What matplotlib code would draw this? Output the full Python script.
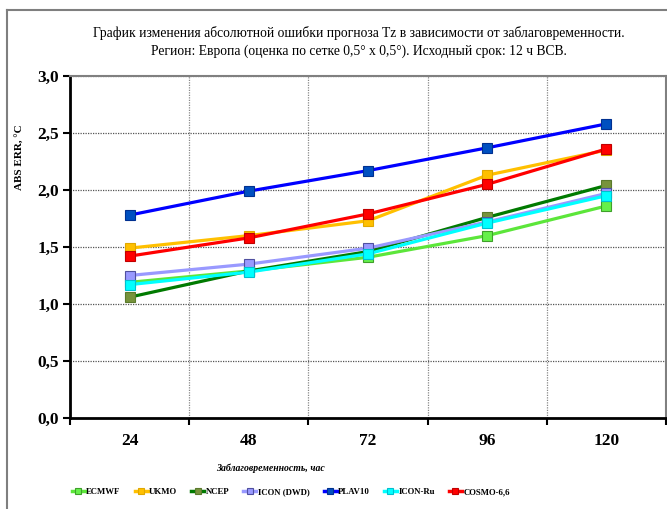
import matplotlib
matplotlib.use("Agg")
import matplotlib.pyplot as plt
from matplotlib.lines import Line2D

# lead times, hours
leads = ["24", "48", "72", "96", "120"]

ecmwf = [1.19, 1.29, 1.41, 1.60, 1.86]
ukmo = [1.49, 1.60, 1.73, 2.13, 2.35]
ncep = [1.06, 1.29, 1.46, 1.76, 2.04]
icon_dwd = [1.25, 1.35, 1.49, 1.72, 1.97]
plav10 = [1.78, 1.99, 2.17, 2.37, 2.58]
icon_ru = [1.17, 1.28, 1.44, 1.71, 1.95]
cosmo = [1.42, 1.58, 1.79, 2.05, 2.36]

names = ["ECMWF", "UKMO", "NCEP", "ICON (DWD)", "PLAV10", "ICON-Ru", "COSMO-6,6"]
series = [ecmwf, ukmo, ncep, icon_dwd, plav10, icon_ru, cosmo]
# (line colour, marker face, marker edge)
styles = [
    ("#5CE63A", "#66F04A", "#3FA02A"),
    ("#FFC000", "#FFC000", "#E0A800"),
    ("#007A00", "#77933C", "#5A7A2C"),
    ("#9999FF", "#9999FF", "#5050A0"),
    ("#0000FF", "#0050C0", "#003090"),
    ("#00FFFF", "#00FFFF", "#00C0D0"),
    ("#FF0000", "#FF0000", "#C00000"),
]

serif = "Liberation Serif"

fig = plt.figure(figsize=(6.67, 5.09), dpi=100)
ax = fig.add_axes([70 / 667, 1 - 418 / 509, 596 / 667, 342 / 509])

x = list(range(len(leads)))
for vals, name, (lc, mf, me) in zip(series, names, styles):
    ax.plot(x, vals, color=lc, lw=2.3, marker="s", markersize=7,
            markerfacecolor=mf, markeredgecolor=me, markeredgewidth=0.8,
            label=name, zorder=3)

ax.set_xlim(-0.5, len(leads) - 0.5)
ax.set_ylim(0, 3.0)
ax.set_yticks([0, 0.5, 1.0, 1.5, 2.0, 2.5, 3.0])
ax.set_yticklabels(["0,0", "0,5", "1,0", "1,5", "2,0", "2,5", "3,0"],
                   fontfamily=serif, fontweight="bold", fontsize=12.5)
ax.set_xticks(x)
ax.set_xticklabels(leads, fontfamily=serif, fontweight="bold", fontsize=12.5)
ax.set_xticks([i - 0.5 for i in range(len(leads) + 1)], minor=True)
ax.tick_params(axis="x", which="major", length=0, pad=11)
ax.tick_params(axis="x", which="minor", length=5, width=1.5, direction="out")
ax.tick_params(axis="y", length=5, width=1.5, direction="out", pad=3)

ax.grid(True, axis="y", which="major", color="#555555", ls=(0, (1, 1)), lw=0.9)
ax.grid(True, axis="x", which="minor", color="#888888", ls=(0, (1, 1)), lw=0.9)

for side in ["left", "bottom"]:
    ax.spines[side].set_linewidth(2)
    ax.spines[side].set_color("black")
for side in ["top", "right"]:
    ax.spines[side].set_linewidth(1.5)
    ax.spines[side].set_color("#808080")

fig.text(359 / 667, 1 - 33 / 509,
         "График изменения абсолютной ошибки прогноза Tz в зависимости от заблаговременности.",
         ha="center", va="center", fontfamily=serif, fontsize=9.8)
fig.text(359 / 667, 1 - 51 / 509,
         "Регион: Европа (оценка по сетке 0,5° х 0,5°). Исходный срок: 12 ч ВСВ.",
         ha="center", va="center", fontfamily=serif, fontsize=9.8)

fig.text(19 / 667, 1 - 157 / 509, "ABS ERR, °C", rotation=90, ha="center", va="center",
         fontfamily=serif, fontweight="bold", fontsize=8)
fig.text(270 / 667, 1 - 468 / 509, "Заблаговременность, час", ha="center", va="center",
         fontfamily=serif, fontweight="bold", fontstyle="italic", fontsize=7)

leg = fig.legend(loc="center left", bbox_to_anchor=(64 / 667, 1 - 492 / 509), ncol=7,
                 frameon=False, handlelength=1.5, handletextpad=0.15, columnspacing=1.6,
                 prop={"family": serif, "weight": "bold", "size": 6.3})
for h in leg.legend_handles:
    h.set_markersize(4)
    h.set_linewidth(2.5)

# outer chart frame
fig.add_artist(Line2D([7 / 667, 7 / 667], [0, 1 - 10 / 509], color="#7f7f7f", lw=1.5,
                      transform=fig.transFigure))
fig.add_artist(Line2D([7 / 667, 1], [1 - 10 / 509, 1 - 10 / 509], color="#7f7f7f", lw=1.5,
                      transform=fig.transFigure))

fig.savefig("out.png", dpi=100)
